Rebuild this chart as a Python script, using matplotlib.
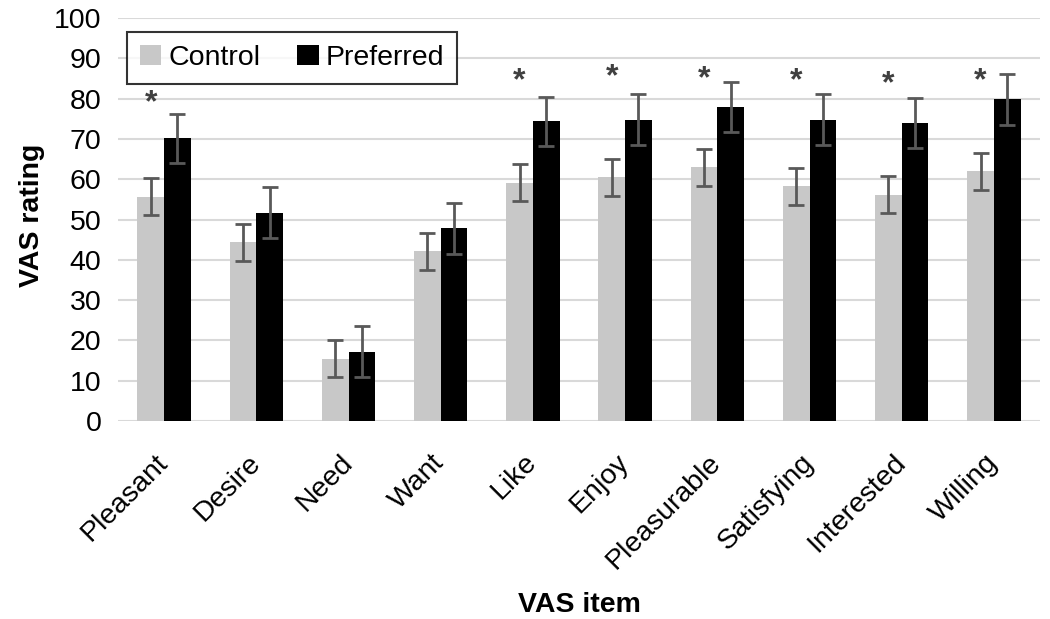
import matplotlib
matplotlib.use("Agg")
import matplotlib.pyplot as plt
import numpy as np

categories = ["Pleasant", "Desire", "Need", "Want", "Like", "Enjoy",
              "Pleasurable", "Satisfying", "Interested", "Willing"]
control = [55.7, 44.4, 15.5, 42.1, 59.1, 60.5, 63.0, 58.3, 56.2, 62.0]
control_err = [4.6, 4.6, 4.6, 4.6, 4.6, 4.6, 4.6, 4.6, 4.6, 4.6]
preferred = [70.1, 51.7, 17.2, 47.8, 74.4, 74.8, 77.9, 74.8, 74.0, 79.8]
preferred_err = [6.1, 6.3, 6.3, 6.3, 6.1, 6.3, 6.1, 6.3, 6.2, 6.3]
significant = [True, False, False, False, True, True, True, True, True, True]
star_y = [79.9, None, None, None, 85.2, 86.3, 85.8, 85.3, 84.5, 85.3]
yticks = list(range(0, 101, 10))

plt.rcParams['font.family'] = ['Liberation Sans', 'DejaVu Sans']

fig = plt.figure(figsize=(10.5, 6.19), dpi=100)
ax = fig.add_axes([118/1050, 1 - 421/619, (1040-118)/1050, (421-18)/619])

x = np.arange(len(categories))
w = 0.29
err_kw = dict(ecolor='#595959', elinewidth=2, capsize=6, capthick=2)
ax.bar(x - w/2, control, w, yerr=control_err, color='#c8c8c8', label='Control',
       error_kw=err_kw, zorder=3)
ax.bar(x + w/2, preferred, w, yerr=preferred_err, color='#000000', label='Preferred',
       error_kw=err_kw, zorder=3)

for i, sig in enumerate(significant):
    if sig:
        ax.text(x[i] - w/2, star_y[i] - 1.0, "*", ha='center', va='center',
                fontsize=23, color='#404040', fontweight='bold')

ax.set_xlim(-0.5, len(categories) - 0.5)
ax.set_ylim(0, 100)
ax.set_yticks(yticks)
ax.yaxis.grid(True, color='#d9d9d9', linewidth=1.5, zorder=0)
ax.set_axisbelow(True)
for s in ax.spines.values():
    s.set_visible(False)
ax.tick_params(axis='both', length=0, labelsize=20.5)
ax.tick_params(axis='y', pad=12)
ax.tick_params(axis='x', pad=27)
ax.set_xticks(x)
ax.set_xticklabels(categories, rotation=45, ha='right', va='center',
                   rotation_mode='anchor')
ax.set_ylabel("VAS rating", fontsize=20.5, fontweight='bold')
ax.yaxis.set_label_coords(-0.079, 0.51)
ax.set_xlabel("VAS item", fontsize=20.5, fontweight='bold')
ax.xaxis.set_label_coords(0.5, -0.424)

leg = ax.legend(loc='upper left', bbox_to_anchor=(0.0098, 0.966), ncol=2,
                fontsize=20.5, borderaxespad=0,
                frameon=True, fancybox=False, edgecolor='black',
                handlelength=0.75, handleheight=0.75, handletextpad=0.25,
                columnspacing=1.3, borderpad=0.45)
leg.get_frame().set_linewidth(1.5)

fig.savefig("out.png", dpi=100)
